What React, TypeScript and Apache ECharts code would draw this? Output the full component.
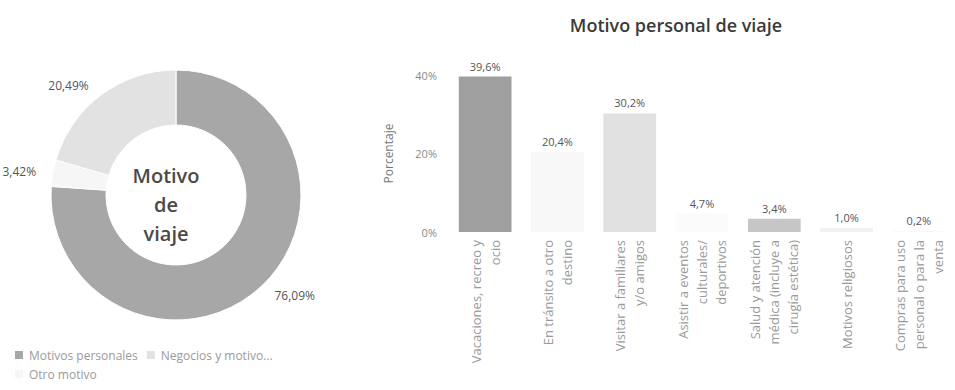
import React, { useEffect, useRef } from "react";
import * as echarts from "echarts";

const pieNames = ["Motivos personales", "Otro motivo", "Negocios y motivos profesionales"];
const pieValues = [76.09, 3.42, 20.49];
const pieColors = ["#a7a7a7", "#f6f6f6", "#e2e2e2"];
const legendOrder = ["Motivos personales", "Negocios y motivos profesionales", "Otro motivo"];

const barCategories = [
  "Vacaciones, recreo y\nocio",
  "En tránsito a otro\ndestino",
  "Visitar a familiares\ny/o amigos",
  "Asistir a eventos\nculturales/\ndeportivos",
  "Salud y atención\nmédica (incluye a\ncirugía estética)",
  "Motivos religiosos",
  "Compras para uso\npersonal o para la\nventa",
];
const barValues = [39.6, 20.4, 30.2, 4.7, 3.4, 1.0, 0.2];
const barColors = ["#9f9f9f", "#f8f8f8", "#e1e1e1", "#fbfbfb", "#c6c6c6", "#f2f2f2", "#f7f7f7"];

const FONT = "'Open Sans', 'Noto Sans', sans-serif";

const fmtPct = (v: number, d: number) => v.toFixed(d).replace(".", ",") + "%";

export default function App() {
  const ref = useRef<HTMLDivElement>(null);
  useEffect(() => {
    if (!ref.current) return;
    const chart = echarts.init(ref.current, null, { renderer: "svg" });
    chart.setOption({
      animation: false,
      backgroundColor: "#ffffff",
      textStyle: { fontFamily: FONT },
      title: {
        text: "Motivo personal de viaje",
        left: 671,
        top: 11,
        textAlign: "center",
        textStyle: { fontFamily: FONT, fontSize: 18, fontWeight: 600, color: "#3a3a3a" },
      },
      legend: {
        left: 13,
        top: 349,
        width: 320,
        padding: 0,
        orient: "horizontal",
        itemWidth: 10,
        itemHeight: 10,
        itemGap: 7,
        icon: "rect",
        textStyle: { fontFamily: FONT, fontSize: 12, color: "#9a9a9a" },
        data: legendOrder.map((n) =>
          n === "Negocios y motivos profesionales"
            ? { name: n, textStyle: { width: 118, overflow: "truncate", ellipsis: "..." } }
            : { name: n }
        ),
      },
      graphic: [
        {
          type: "text",
          x: 166,
          y: 204,
          style: {
            text: "Motivo\nde\nviaje",
            fontFamily: FONT,
            fontSize: 20,
            fontWeight: 600,
            lineHeight: 29,
            fill: "#4a4a4a",
            textAlign: "center",
            textVerticalAlign: "middle",
          },
        },
      ],
      grid: { left: 449, top: 75, width: 518, height: 157, containLabel: false },
      xAxis: {
        type: "category",
        data: barCategories,
        axisLine: { show: false },
        axisTick: { show: false },
        axisLabel: {
          interval: 0,
          rotate: 90,
          margin: 8,
          fontFamily: FONT,
          fontSize: 13,
          lineHeight: 19,
          color: "#9a9a9a",
        },
      },
      yAxis: {
        type: "value",
        min: 0,
        max: 40,
        interval: 20,
        name: "Porcentaje",
        nameLocation: "middle",
        nameGap: 55,
        nameTextStyle: { fontFamily: FONT, fontSize: 12, color: "#777777" },
        axisLine: { show: false },
        axisTick: { show: false },
        splitLine: { show: false },
        axisLabel: {
          formatter: "{value}%",
          margin: 12,
          fontFamily: FONT,
          fontSize: 11,
          color: "#8a8a8a",
        },
      },
      series: [
        {
          type: "pie",
          name: "Motivo de viaje",
          center: [176, 195],
          radius: [70, 125],
          startAngle: 90,
          clockwise: true,
          avoidLabelOverlap: false,
          itemStyle: { borderColor: "#ffffff", borderWidth: 1 },
          label: {
            show: true,
            position: "outside",
            fontFamily: FONT,
            fontSize: 12,
            color: "#555555",
            formatter: (p: any) => fmtPct(p.value, 2),
          },
          labelLine: { show: false, length: 12, length2: 0 },
          data: pieNames.map((n, i) => ({
            name: n,
            value: pieValues[i],
            itemStyle: { color: pieColors[i] },
          })),
        },
        {
          type: "bar",
          name: "Motivo personal",
          barCategoryGap: "27%",
          label: {
            show: true,
            position: "top",
            distance: 5,
            fontFamily: FONT,
            fontSize: 11,
            color: "#555555",
            formatter: (p: any) => fmtPct(p.value, 1),
          },
          data: barValues.map((v, i) => ({ value: v, itemStyle: { color: barColors[i] } })),
        },
      ],
    });
    return () => chart.dispose();
  }, []);
  return (
    <div
      ref={ref}
      style={{ position: "fixed", left: 0, top: 0, width: 955, height: 390, background: "#fff" }}
    />
  );
}
